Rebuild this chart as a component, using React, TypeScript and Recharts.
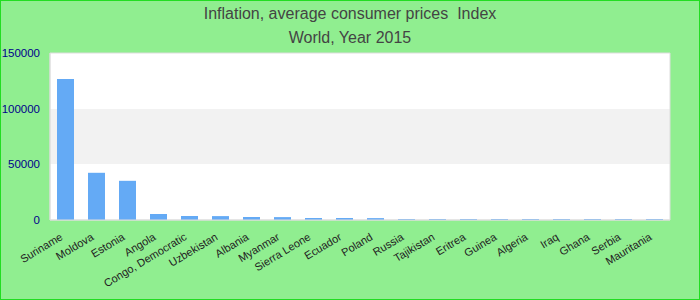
import { Bar, BarChart, CartesianGrid, ReferenceArea, XAxis, YAxis } from "recharts"

const countries = [
  "Suriname", "Moldova", "Estonia", "Angola", "Congo, Democratic", "Uzbekistan", "Albania",
  "Myanmar", "Sierra Leone", "Ecuador", "Poland", "Russia", "Tajikistan", "Eritrea",
  "Guinea", "Algeria", "Iraq", "Ghana", "Serbia", "Mauritania",
]
const indexValues = [
  126600, 42400, 35200, 5400, 3600, 3500, 2700, 2600, 1800, 1800, 1700,
  900, 900, 900, 900, 900, 900, 900, 900, 900,
]
const yTicks = [0, 50000, 100000, 150000]

const chartData = countries.map((name, i) => ({ name, value: indexValues[i] }))

function SlantedTick({ x, y, payload }: any) {
  return (
    <g transform={`translate(${x - 2},${y + 11})`}>
      <text
        textAnchor="end"
        transform="rotate(-31)"
        fontSize={11}
        fontFamily="'Liberation Sans', Arial, sans-serif"
        fill="#222"
      >
        {payload.value}
      </text>
    </g>
  )
}

export default function App() {
  return (
    <div
      style={{
        position: "fixed",
        left: 0,
        top: 0,
        width: 700,
        height: 300,
        boxSizing: "border-box",
        background: "#90ee90",
        border: "1px solid #22dd22",
        fontFamily: "'Liberation Sans', Arial, sans-serif",
      }}
    >
      <div style={{ position: "absolute", top: 3, left: 0, width: 698, textAlign: "center", fontSize: 16, color: "#444", lineHeight: "19px" }}>
        Inflation, average consumer prices&nbsp; Index
      </div>
      <div style={{ position: "absolute", top: 27, left: 0, width: 698, textAlign: "center", fontSize: 16, color: "#444", lineHeight: "19px" }}>
        World, Year 2015
      </div>
      <div style={{ position: "absolute", left: -1, top: -1 }}>
        <BarChart width={700} height={300} data={chartData} margin={{ top: 53, right: 30, left: 0, bottom: 0 }} barCategoryGap={0}>
          <CartesianGrid
            vertical={false}
            horizontal={true}
            stroke="none"
            horizontalFill={["#ffffff", "#f2f2f2"]}
          />
          <XAxis
            dataKey="name"
            interval={0}
            axisLine={{ stroke: "#dddddd" }}
            tickLine={false}
            height={80}
            tick={<SlantedTick />}
          />
          <YAxis
            domain={[0, 150000]}
            ticks={yTicks}
            width={50}
            axisLine={{ stroke: "#dddddd" }}
            tickLine={false}
            tickMargin={4}
            tick={{ fontSize: 11.5, fill: "#00008b", fontFamily: "'Liberation Sans', Arial, sans-serif" }}
          />
          <ReferenceArea y1={0} y2={150000} fill="none" stroke="#dddddd" />
          <Bar dataKey="value" fill="#64aaf5" barSize={17} isAnimationActive={false} />
        </BarChart>
      </div>
    </div>
  )
}
